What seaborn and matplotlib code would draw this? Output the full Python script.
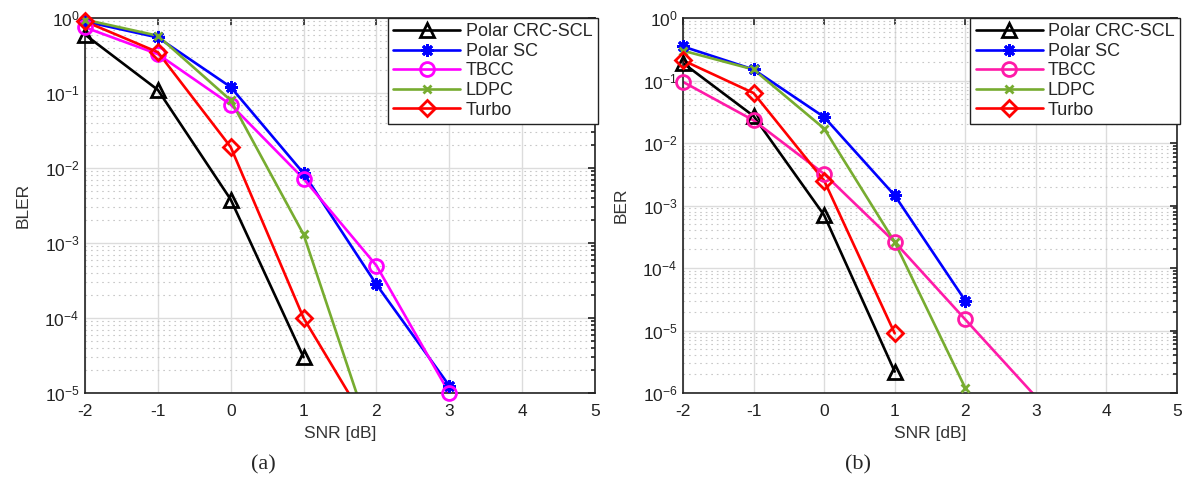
import numpy as np
import pandas as pd
import matplotlib
matplotlib.use("Agg")
import matplotlib.pyplot as plt
import seaborn as sns
from matplotlib.ticker import LogLocator, NullFormatter
from matplotlib.lines import Line2D

snr = [-2, -1, 0, 1, 2, 3]
series_names = ["Polar CRC-SCL", "Polar SC", "TBCC", "LDPC", "Turbo"]

# (a) BLER
bler_crc_scl = [0.6, 0.11, 0.0038, 3.0e-5]
bler_polar_sc = [0.9, 0.55, 0.12, 0.0085, 2.8e-4, 1.25e-5]
bler_tbcc = [0.75, 0.33, 0.07, 0.0072, 5.0e-4, 1.0e-5]
bler_ldpc = [0.95, 0.58, 0.08, 0.0013, 1.6e-6]
bler_turbo = [0.9, 0.35, 0.019, 1.0e-4, 2.4e-6]

# (b) BER
ber_crc_scl = [0.19, 0.027, 7.0e-4, 2.2e-6]
ber_polar_sc = [0.35, 0.15, 0.026, 1.45e-3, 3.0e-5]
ber_tbcc = [0.095, 0.023, 3.2e-3, 2.6e-4, 1.5e-5, 8.7e-7]
ber_ldpc = [0.3, 0.15, 0.017, 2.6e-4, 1.2e-6]
ber_turbo = [0.21, 0.063, 2.5e-3, 9.0e-6]

sns.set_theme(style="white")
plt.rcParams['font.family'] = ['Liberation Sans', 'DejaVu Sans']
plt.rcParams['mathtext.fontset'] = 'custom'
plt.rcParams['mathtext.rm'] = 'Liberation Sans'
plt.rcParams['axes.unicode_minus'] = False

fig = plt.figure(figsize=(11.9, 4.82), dpi=100)
axL = fig.add_axes([85/1190, 89/482, 510/1190, 375/482])
axR = fig.add_axes([683/1190, 89/482, 494/1190, 375/482])

styles = {
    "Polar CRC-SCL": dict(marker="^", ms=10),
    "Polar SC": dict(marker=(8, 2, 0), ms=9),
    "TBCC": dict(marker="o", ms=10),
    "LDPC": dict(marker="x", ms=6),
    "Turbo": dict(marker="D", ms=8),
}

def draw(ax, data, colors, ylow, ylabel, legend_bbox):
    for name, vals in zip(series_names, data):
        x = snr[:len(vals)]
        df = pd.DataFrame({"SNR": x, "val": vals})
        st = styles[name]
        sns.lineplot(data=df, x="SNR", y="val", ax=ax, color=colors[name],
                     lw=1.9, marker=None, legend=False)
        ins = df[df["val"] >= ylow * 0.999]
        ax.plot(ins["SNR"], ins["val"], ls="none", marker=st["marker"],
                ms=st["ms"], mfc="none", mec=colors[name], mew=2, clip_on=False, zorder=5)
    ax.set_yscale("log")
    ax.set_xlim(-2, 5)
    ax.set_ylim(ylow, 1)
    ax.set_xticks(range(-2, 6))
    ax.yaxis.set_major_locator(LogLocator(base=10, numticks=20))
    ax.yaxis.set_minor_locator(LogLocator(base=10, subs=np.arange(2, 10), numticks=20))
    ax.yaxis.set_minor_formatter(NullFormatter())
    ax.grid(True, which="major", color="#dcdcdc", lw=1.0, ls="-")
    ax.grid(True, which="minor", axis="y", color="#c8c8c8", lw=0.8, ls=(0, (1.5, 3.5)))
    ax.set_axisbelow(True)
    for sp in ax.spines.values():
        sp.set_color("#222222")
        sp.set_linewidth(1.2)
    ax.tick_params(which="both", direction="in", top=True, right=True,
                   labelsize=12.5, colors="#222222", width=1.2)
    ax.tick_params(which="major", length=5)
    ax.tick_params(which="minor", length=3)
    ax.tick_params(axis="x", pad=8)
    ax.tick_params(axis="y", pad=4)
    ax.set_xlabel("SNR [dB]", fontsize=12.5, color="#333333", labelpad=5)
    ax.set_ylabel(ylabel, fontsize=12.5, color="#333333", labelpad=10)
    handles = [Line2D([], [], color=colors[n], lw=1.9, marker=styles[n]["marker"],
                      ms=styles[n]["ms"], mfc="none", mew=2) for n in series_names]
    leg = ax.legend(handles, series_names, loc="upper right", bbox_to_anchor=legend_bbox,
                    fontsize=13, frameon=True, fancybox=False, edgecolor="#222222",
                    framealpha=1, borderpad=0.3, labelspacing=0.14, handlelength=3.7,
                    handletextpad=0.3, borderaxespad=0)
    leg.get_frame().set_linewidth(1.0)

colorsL = {"Polar CRC-SCL": "#000000", "Polar SC": "#0000FF", "TBCC": "#FF00FF",
           "LDPC": "#77AC30", "Turbo": "#FF0000"}
colorsR = {"Polar CRC-SCL": "#000000", "Polar SC": "#0000FF", "TBCC": "#FF1AA8",
           "LDPC": "#77AC30", "Turbo": "#FF0000"}

draw(axL, [bler_crc_scl, bler_polar_sc, bler_tbcc, bler_ldpc, bler_turbo], colorsL,
     1e-5, "BLER", (1.005, 1.0))
draw(axR, [ber_crc_scl, ber_polar_sc, ber_tbcc, ber_ldpc, ber_turbo], colorsR,
     1e-6, "BER", (1.006, 1.0))

fig.text(263/1190, 1 - 465/482, "(a)", ha="center", va="center",
         fontsize=16, family="Liberation Serif")
fig.text(858/1190, 1 - 465/482, "(b)", ha="center", va="center",
         fontsize=16, family="Liberation Serif")

fig.savefig("out.png", dpi=100)
